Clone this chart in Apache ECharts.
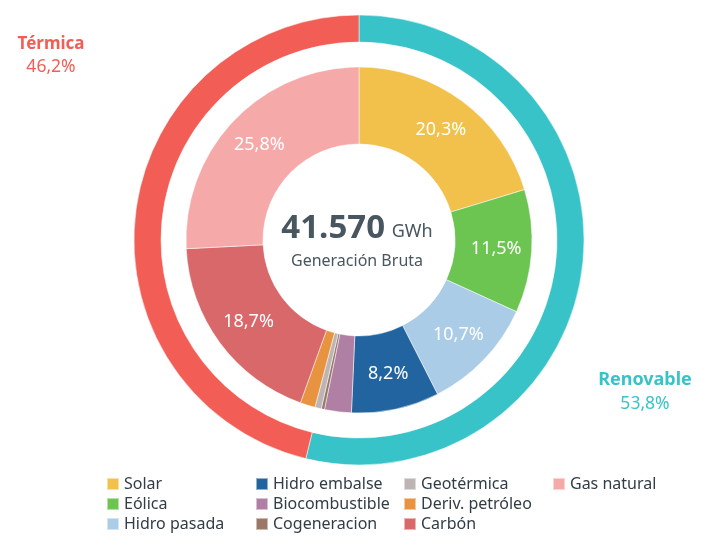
<!DOCTYPE html>
<html lang="es">
<head>
    <meta charset="UTF-8">
    <title>Generación Bruta</title>
    <script type="text/javascript" src="https://cdn.jsdelivr.net/npm/echarts@6/dist/echarts.min.js"></script>
    <style>
        html, body { margin: 0; padding: 0; background: #fff; }
        #charts { width: 709px; height: 548px; }
    </style>
</head>
<body>
<div id="charts"></div>
<script>
    // fuentes de generacion (orden horario desde arriba)
    var fuentes = ["Solar", "Eólica", "Hidro pasada", "Hidro embalse", "Biocombustible",
        "Cogeneracion", "Geotérmica", "Deriv. petróleo", "Carbón", "Gas natural"]
    var porcentajes = [20.3, 11.5, 10.7, 8.2, 2.5, 0.3, 0.6, 1.4, 18.7, 25.8]
    var colores = ["#F2C14B", "#6CC551", "#AACCE6", "#22649F", "#B07FA4",
        "#9A7766", "#BDB5B5", "#E8933F", "#D9686B", "#F6A9A9"]

    // anillo exterior
    var grupos = ["Renovable", "Térmica"]
    var gruposPct = [53.8, 46.2]
    var gruposColor = ["#38C3C9", "#F25D55"]

    var totalGWh = "41.570"
    var unidad = "GWh"
    var subtitulo = "Generación Bruta"

    // columnas de la leyenda
    var columnas = [
        ["Solar", "Eólica", "Hidro pasada"],
        ["Hidro embalse", "Biocombustible", "Cogeneracion"],
        ["Geotérmica", "Deriv. petróleo", "Carbón"],
        ["Gas natural"]
    ]
    var columnasX = [106, 255, 403, 552]

    function fmt(v) {
        return v.toFixed(1).replace(".", ",") + "%"
    }

    var FONT = "Noto Sans"
    var OSCURO = "#48565F"

    var datosInt = fuentes.map(function (n, i) {
        return {
            name: n, value: porcentajes[i],
            itemStyle: {color: colores[i]},
            label: {show: porcentajes[i] > 5}
        }
    })
    var datosExt = grupos.map(function (n, i) {
        return {name: n, value: gruposPct[i], itemStyle: {color: gruposColor[i]}}
    })

    var leyendas = columnas.map(function (col, i) {
        return {
            data: col,
            orient: "vertical",
            left: columnasX[i],
            top: 476,
            padding: 0,
            itemWidth: 12,
            itemHeight: 12,
            itemGap: 4,
            icon: "rect",
            selectedMode: false,
            textStyle: {fontFamily: FONT, fontSize: 16, color: "#323c46"}
        }
    })

    function texto(t, x, y, size, color, bold) {
        return {
            type: "text",
            x: x, y: y,
            style: {
                text: t, fontFamily: FONT, fontSize: size, fontWeight: bold ? "bold" : "normal",
                fill: color, align: "center", verticalAlign: "middle"
            }
        }
    }

    var chart = echarts.init(document.getElementById("charts"), null, {renderer: "canvas"})
    chart.setOption({
        animation: false,
        legend: leyendas,
        graphic: [
            {
                type: "text",
                x: 357, y: 229,
                style: {
                    text: "{a|" + totalGWh + "}  {b|" + unidad + "}",
                    rich: {
                        a: {fontFamily: FONT, fontSize: 33, fontWeight: "bold", fill: OSCURO},
                        b: {fontFamily: FONT, fontSize: 18, fill: OSCURO, padding: [6, 0, 0, 0]}
                    },
                    align: "center", verticalAlign: "middle"
                }
            },
            texto(subtitulo, 357, 261, 16, OSCURO, false),
            texto(grupos[1], 51, 44, 17, gruposColor[1], true),
            texto(fmt(gruposPct[1]), 51, 67, 17.5, gruposColor[1], false),
            texto(grupos[0], 645, 380, 18, gruposColor[0], true),
            texto(fmt(gruposPct[0]), 645, 404, 17.5, gruposColor[0], false)
        ],
        series: [
            {
                type: "pie",
                center: [359, 240],
                radius: [198, 225],
                startAngle: 90,
                clockwise: true,
                silent: true,
                label: {show: false},
                labelLine: {show: false},
                itemStyle: {borderColor: "rgba(255,255,255,0.5)", borderWidth: 1},
                data: datosExt
            },
            {
                type: "pie",
                center: [359, 240],
                radius: [96, 173],
                startAngle: 90,
                clockwise: true,
                silent: true,
                avoidLabelOverlap: false,
                itemStyle: {borderColor: "rgba(255,255,255,0.5)", borderWidth: 1},
                label: {
                    position: "inside",
                    fontFamily: FONT, fontSize: 18, color: "#fff",
                    formatter: function (p) { return fmt(p.value) }
                },
                labelLine: {show: false},
                data: datosInt
            }
        ]
    })
</script>
</body>
</html>
